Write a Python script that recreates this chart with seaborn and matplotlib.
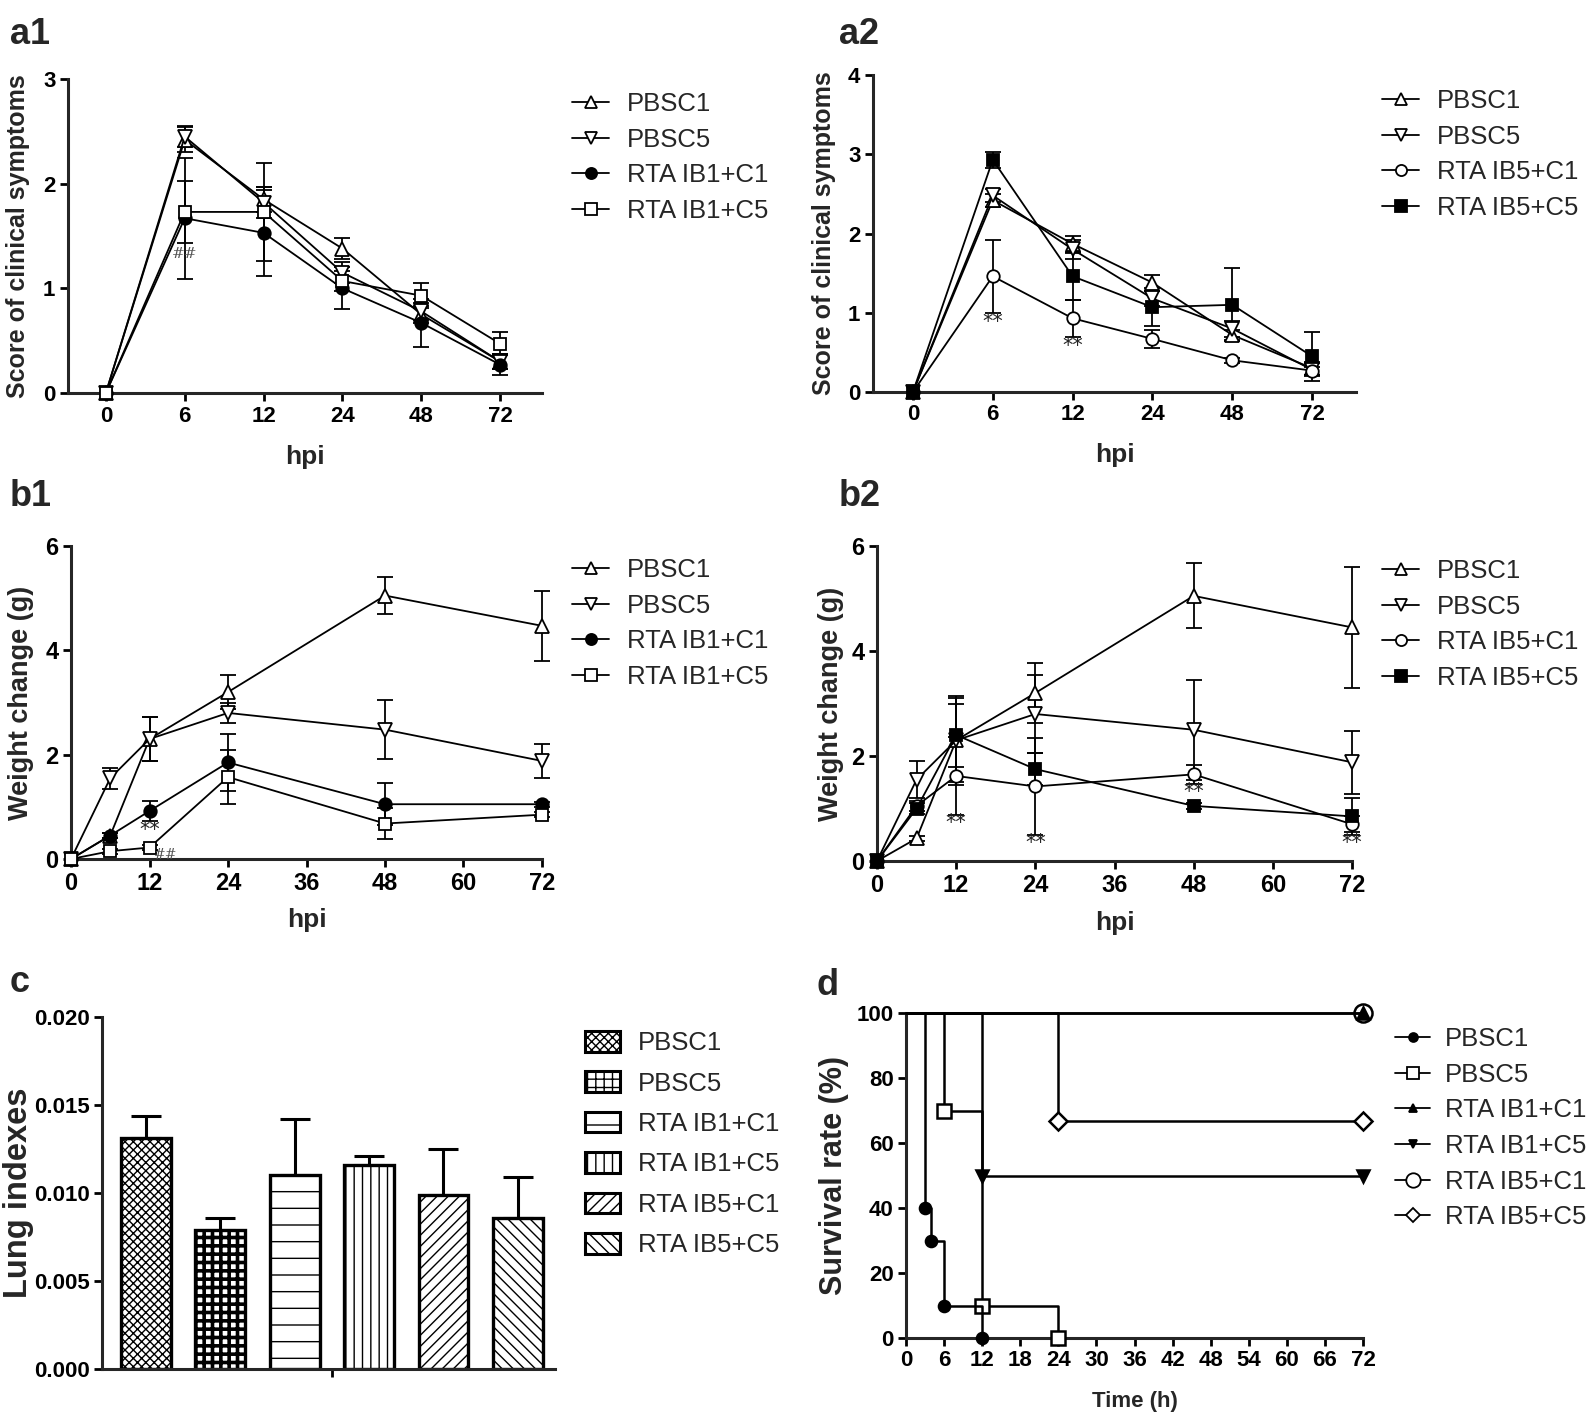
import numpy as np
import pandas as pd
import matplotlib
matplotlib.use('Agg')
import matplotlib.pyplot as plt
import seaborn as sns
from matplotlib.lines import Line2D
from matplotlib.patches import Patch

# ---- data ----
hpi_labels = ['0', '6', '12', '24', '48', '72']
hpi = [0, 6, 12, 24, 48, 72]

# a1 clinical score (IB1 groups)
a1_pbsc1 = [0, 2.42, 1.85, 1.38, 0.75, 0.30]
a1_pbsc1_err = [0, 0.12, 0.12, 0.10, 0.08, 0.07]
a1_pbsc5 = [0, 2.45, 1.82, 1.15, 0.78, 0.30]
a1_pbsc5_err = [0, 0.10, 0.15, 0.10, 0.08, 0.07]
a1_ib1c1 = [0, 1.67, 1.53, 1.00, 0.67, 0.27]
a1_ib1c1_err = [0, 0.58, 0.41, 0.20, 0.23, 0.10]
a1_ib1c5 = [0, 1.73, 1.73, 1.07, 0.93, 0.47]
a1_ib1c5_err = [0, 0.30, 0.47, 0.10, 0.12, 0.11]

# a2 clinical score (IB5 groups)
a2_pbsc1 = [0, 2.42, 1.87, 1.38, 0.72, 0.30]
a2_pbsc1_err = [0, 0.08, 0.10, 0.10, 0.06, 0.08]
a2_pbsc5 = [0, 2.48, 1.80, 1.18, 0.80, 0.28]
a2_pbsc5_err = [0, 0.08, 0.12, 0.10, 0.10, 0.08]
a2_ib5c1 = [0, 1.46, 0.93, 0.67, 0.40, 0.27]
a2_ib5c1_err = [0, 0.46, 0.23, 0.11, 0.03, 0.05]
a2_ib5c5 = [0, 2.93, 1.46, 1.07, 1.10, 0.45]
a2_ib5c5_err = [0, 0.10, 0.30, 0.24, 0.46, 0.31]

# b1 weight change (IB1 groups)
b1_pbsc1 = [0, 0.45, 2.30, 3.20, 5.05, 4.47]
b1_pbsc1_err = [0, 0.05, 0.43, 0.33, 0.35, 0.67]
b1_pbsc5 = [0, 1.55, 2.30, 2.80, 2.48, 1.88]
b1_pbsc5_err = [0, 0.20, 0.43, 0.20, 0.57, 0.33]
b1_ib1c1 = [0, 0.45, 0.92, 1.85, 1.05, 1.05]
b1_ib1c1_err = [0, 0.05, 0.20, 0.55, 0.40, 0.05]
b1_ib1c5 = [0, 0.15, 0.22, 1.57, 0.68, 0.85]
b1_ib1c5_err = [0, 0.05, 0.05, 0.52, 0.30, 0.05]

# b2 weight change (IB5 groups)
b2_pbsc1 = [0, 0.43, 2.30, 3.20, 5.05, 4.45]
b2_pbsc1_err = [0, 0.05, 0.80, 0.58, 0.62, 1.15]
b2_pbsc5 = [0, 1.55, 2.30, 2.80, 2.50, 1.88]
b2_pbsc5_err = [0, 0.35, 0.85, 0.75, 0.95, 0.60]
b2_ib5c1 = [0, 1.05, 1.62, 1.42, 1.65, 0.70]
b2_ib5c1_err = [0, 0.10, 0.75, 0.92, 0.18, 0.15]
b2_ib5c5 = [0, 1.00, 2.40, 1.75, 1.05, 0.85]
b2_ib5c5_err = [0, 0.10, 0.60, 0.30, 0.05, 0.35]

# c lung indexes
c_groups = ['PBSC1', 'PBSC5', 'RTA IB1+C1', 'RTA IB1+C5', 'RTA IB5+C1', 'RTA IB5+C5']
c_means = [0.0131, 0.0079, 0.0110, 0.0116, 0.0099, 0.0086]
c_err = [0.0013, 0.0007, 0.0032, 0.0005, 0.0026, 0.0023]
c_hatches = ['xxxx', '++', '-', '||', '///', '\\\\\\']

# d survival (time of each step, survival after the step)
d_pbsc1_t = [0, 3, 4, 6, 12]
d_pbsc1_s = [100, 40, 30, 10, 0]
d_pbsc5_t = [0, 6, 12, 24]
d_pbsc5_s = [100, 70, 10, 0]
d_ib1c1_t = [0, 72]
d_ib1c1_s = [100, 100]
d_ib1c5_t = [0, 12, 72]
d_ib1c5_s = [100, 50, 50]
d_ib5c1_t = [0, 72]
d_ib5c1_s = [100, 100]
d_ib5c5_t = [0, 24, 72]
d_ib5c5_s = [100, 66.7, 66.7]

# ---- style ----
sns.set_style('ticks')
plt.rcParams['font.family'] = ['Liberation Sans', 'DejaVu Sans']
plt.rcParams['axes.linewidth'] = 2.2
plt.rcParams['xtick.major.width'] = 2.0
plt.rcParams['ytick.major.width'] = 2.0
plt.rcParams['xtick.major.size'] = 6
plt.rcParams['ytick.major.size'] = 6
plt.rcParams['xtick.color'] = 'black'
plt.rcParams['ytick.color'] = 'black'
plt.rcParams['hatch.linewidth'] = 1.0

fig = plt.figure(figsize=(15.93, 14.2), dpi=100)
W, H = 1593.0, 1420.0


def rect(l, t, r, b):
    return [l / W, 1 - b / H, (r - l) / W, (b - t) / H]


def series(ax, x, y, err, marker, fill, ms=10):
    sns.lineplot(x=x, y=y, color='black', lw=1.3, marker=marker, markersize=ms,
                 markerfacecolor=fill, markeredgecolor='black', markeredgewidth=1.3,
                 ax=ax, clip_on=False, zorder=3)
    xs = [a for a, e in zip(x, err) if e > 0]
    ys = [a for a, e in zip(y, err) if e > 0]
    es = [e for e in err if e > 0]
    ax.errorbar(xs, ys, yerr=es, fmt='none', ecolor='black', elinewidth=1.3,
                capsize=5.5, capthick=1.3, zorder=2, clip_on=False)


def style_ax(ax, tick_size=16, ylab=(-0.08, 0.5), xlab=None):
    sns.despine(ax=ax)
    ax.tick_params(labelsize=tick_size, pad=3)
    for lab in ax.get_xticklabels() + ax.get_yticklabels():
        lab.set_fontweight('bold')
    ax.yaxis.set_label_coords(*ylab)
    if xlab is not None:
        ax.xaxis.set_label_coords(0.5, xlab)


def legend(handles, labels, x, y, spacing=0.455, hl=1.45, pad=0.68):
    fig.legend(handles, labels, loc='upper left', bbox_to_anchor=(x / W, 1 - y / H),
               frameon=False, borderpad=0, borderaxespad=0, handlelength=hl,
               handletextpad=pad, labelspacing=spacing, fontsize=18.5)


def mk(marker, fill, ms=8):
    return Line2D([], [], color='black', lw=1.3, marker=marker, markersize=ms,
                  markerfacecolor=fill, markeredgecolor='black', markeredgewidth=1.3)


pos = list(range(len(hpi_labels)))

# ---- a1 ----
ax = fig.add_axes(rect(68, 79, 542, 393))
series(ax, pos, a1_pbsc1, a1_pbsc1_err, '^', 'white')
series(ax, pos, a1_pbsc5, a1_pbsc5_err, 'v', 'white')
series(ax, pos, a1_ib1c1, a1_ib1c1_err, 'o', 'black', 9)
series(ax, pos, a1_ib1c5, a1_ib1c5_err, 's', 'white', 9)
ax.text(1, 1.33, '##', ha='center', va='center', fontsize=11, color='#555555', family='DejaVu Serif')
ax.set_xlim(-0.48, 5.53)
ax.set_ylim(0, 3)
ax.set_xticks(pos)
ax.set_xticklabels(hpi_labels)
ax.set_yticks([0, 1, 2, 3])
ax.set_xlabel('hpi', fontsize=19, fontweight='bold')
ax.set_ylabel('Score of clinical symptoms', fontsize=18, fontweight='bold')
style_ax(ax, ylab=(-0.08, 0.5), xlab=-0.165)
legend([mk('^', 'white'), mk('v', 'white'), mk('o', 'black'), mk('s', 'white')],
       ['PBSC1', 'PBSC5', 'RTA IB1+C1', 'RTA IB1+C5'], 572, 92)

# ---- a2 ----
ax = fig.add_axes(rect(873, 75, 1356, 392))
series(ax, pos, a2_pbsc1, a2_pbsc1_err, '^', 'white')
series(ax, pos, a2_pbsc5, a2_pbsc5_err, 'v', 'white')
series(ax, pos, a2_ib5c1, a2_ib5c1_err, 'o', 'white', 9)
series(ax, pos, a2_ib5c5, a2_ib5c5_err, 's', 'black', 9)
ax.text(1, 0.88, '**', ha='center', va='center', fontsize=15, family='DejaVu Sans')
ax.text(2, 0.58, '**', ha='center', va='center', fontsize=15, family='DejaVu Sans')
ax.set_xlim(-0.5, 5.55)
ax.set_ylim(0, 4)
ax.set_xticks(pos)
ax.set_xticklabels(hpi_labels)
ax.set_yticks([0, 1, 2, 3, 4])
ax.set_xlabel('hpi', fontsize=19, fontweight='bold')
ax.set_ylabel('Score of clinical symptoms', fontsize=18, fontweight='bold')
style_ax(ax, ylab=(-0.077, 0.5), xlab=-0.16)
legend([mk('^', 'white'), mk('v', 'white'), mk('o', 'white'), mk('s', 'black')],
       ['PBSC1', 'PBSC5', 'RTA IB5+C1', 'RTA IB5+C5'], 1382, 89)

# ---- b1 ----
ax = fig.add_axes(rect(71, 546, 542, 859))
series(ax, hpi, b1_pbsc1, b1_pbsc1_err, '^', 'white')
series(ax, hpi, b1_pbsc5, b1_pbsc5_err, 'v', 'white')
series(ax, hpi, b1_ib1c1, b1_ib1c1_err, 'o', 'black', 9)
series(ax, hpi, b1_ib1c5, b1_ib1c5_err, 's', 'white', 9)
ax.text(12, 0.56, '**', ha='center', va='center', fontsize=15, family='DejaVu Sans')
ax.text(14.5, 0.08, '##', ha='center', va='center', fontsize=10, color='#555555', family='DejaVu Serif')
ax.set_xlim(0, 72)
ax.set_ylim(0, 6)
ax.set_xticks([0, 12, 24, 36, 48, 60, 72])
ax.set_yticks([0, 2, 4, 6])
ax.set_xlabel('hpi', fontsize=19, fontweight='bold')
ax.set_ylabel('Weight change (g)', fontsize=19.5, fontweight='bold')
style_ax(ax, 17, ylab=(-0.079, 0.5), xlab=-0.155)
legend([mk('^', 'white'), mk('v', 'white'), mk('o', 'black'), mk('s', 'white')],
       ['PBSC1', 'PBSC5', 'RTA IB1+C1', 'RTA IB1+C5'], 572, 558)

# ---- b2 ----
ax = fig.add_axes(rect(877, 546, 1352, 861))
series(ax, hpi, b2_pbsc1, b2_pbsc1_err, '^', 'white')
series(ax, hpi, b2_pbsc5, b2_pbsc5_err, 'v', 'white')
series(ax, hpi, b2_ib5c1, b2_ib5c1_err, 'o', 'white', 9)
series(ax, hpi, b2_ib5c5, b2_ib5c5_err, 's', 'black', 9)
for xx, yy in [(12, 0.72), (24, 0.34), (48, 1.31), (72, 0.34)]:
    ax.text(xx, yy, '**', ha='center', va='center', fontsize=15, family='DejaVu Sans')
ax.set_xlim(0, 72)
ax.set_ylim(0, 6)
ax.set_xticks([0, 12, 24, 36, 48, 60, 72])
ax.set_yticks([0, 2, 4, 6])
ax.set_xlabel('hpi', fontsize=19, fontweight='bold')
ax.set_ylabel('Weight change (g)', fontsize=19.5, fontweight='bold')
style_ax(ax, 17, ylab=(-0.069, 0.5), xlab=-0.16)
legend([mk('^', 'white'), mk('v', 'white'), mk('o', 'white'), mk('s', 'black')],
       ['PBSC1', 'PBSC5', 'RTA IB5+C1', 'RTA IB5+C5'], 1382, 559)

# ---- c ----
ax = fig.add_axes(rect(102, 1017, 555, 1369))
df_c = pd.DataFrame({'group': c_groups, 'value': c_means})
sns.barplot(data=df_c, x='group', y='value', color='white', edgecolor='black',
            linewidth=2.4, width=0.67, ax=ax, zorder=2)
for p, h in zip(ax.patches, c_hatches):
    p.set_hatch(h)
    p.set_facecolor('white')
    if h == '++' and hasattr(p, 'set_hatch_linewidth'):
        p.set_hatch_linewidth(2.6)
ax.errorbar(range(len(c_means)), c_means, yerr=[[0] * len(c_err), c_err], fmt='none',
            ecolor='black', elinewidth=2.2, capsize=11, capthick=2.2, zorder=1)
ax.set_xlim(-0.59, 5.5)
ax.set_ylim(0, 0.02)
ax.set_xticks([2.5])
ax.set_xticklabels([''])
ax.set_yticks([0, 0.005, 0.010, 0.015, 0.020])
ax.set_yticklabels(['0.000', '0.005', '0.010', '0.015', '0.020'])
ax.set_xlabel('')
ax.set_ylabel('Lung indexes', fontsize=23.5, fontweight='bold')
style_ax(ax, 16, ylab=(-0.15, 0.5))
fig.legend([Patch(facecolor='white', edgecolor='black', hatch=h, lw=2.2) for h in c_hatches],
           c_groups, loc='upper left', bbox_to_anchor=(585 / W, 1 - 1031 / H),
           frameon=False, borderpad=0, borderaxespad=0, handlelength=1.38, handleheight=0.86,
           handletextpad=0.67, labelspacing=0.63, fontsize=18.5)

# ---- d ----
ax = fig.add_axes(rect(906, 1013, 1363, 1338))
d_sets = [
    (d_pbsc1_t, d_pbsc1_s, 'o', 'black', 8),
    (d_pbsc5_t, d_pbsc5_s, 's', 'white', 10),
    (d_ib1c1_t, d_ib1c1_s, '^', 'black', 8),
    (d_ib1c5_t, d_ib1c5_s, 'v', 'black', 8),
    (d_ib5c1_t, d_ib5c1_s, 'o', 'none', 13),
    (d_ib5c5_t, d_ib5c5_s, 'D', 'white', 9),
]
for t, s, m, f, ms in reversed(d_sets):
    sns.lineplot(x=t, y=s, drawstyle='steps-post', color='black', lw=1.8, ax=ax,
                 marker=m, markersize=ms, markerfacecolor=f, markeredgecolor='black',
                 markeredgewidth=1.8, markevery=list(range(1, len(t))), clip_on=False, zorder=3)
ax.set_xlim(0, 72)
ax.set_ylim(0, 100)
ax.set_xticks(list(range(0, 73, 6)))
ax.set_yticks([0, 20, 40, 60, 80, 100])
ax.set_xlabel('Time (h)', fontsize=16, fontweight='bold')
ax.set_ylabel('Survival rate (%)', fontsize=22, fontweight='bold')
style_ax(ax, 16, ylab=(-0.125, 0.5), xlab=-0.162)
d_handles = [mk(m, f if f != 'none' else 'white', ms * 0.8) for _, _, m, f, ms in d_sets]
legend(d_handles, c_groups, 1395, 1027, spacing=0.455, hl=1.38, pad=0.55)

# ---- panel letters ----
for txt, x, y in [('a1', 10, 44), ('a2', 839, 44), ('b1', 10, 506), ('b2', 839, 506),
                  ('c', 10, 992), ('d', 817, 995)]:
    fig.text(x / W, 1 - y / H, txt, fontsize=26, fontweight='bold', va='baseline')

fig.savefig('out.png', dpi=100, facecolor='white')
